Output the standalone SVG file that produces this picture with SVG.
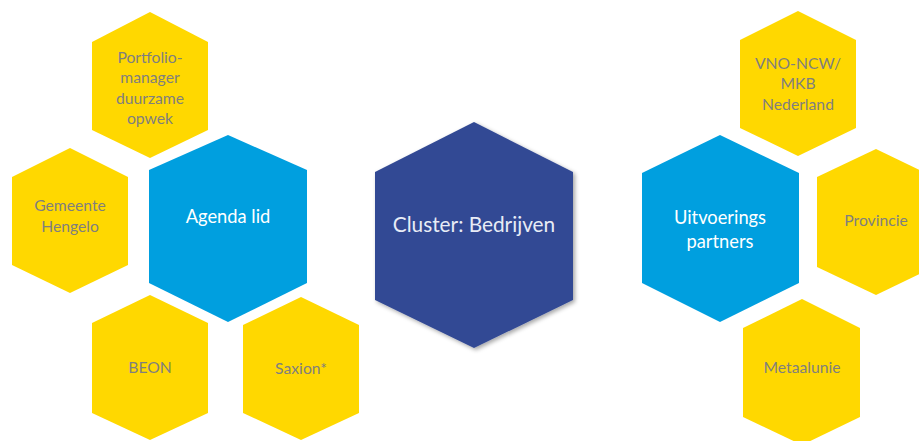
<svg xmlns="http://www.w3.org/2000/svg" width="919" height="441" viewBox="0 0 919 441">
<defs>
<filter id="sh" x="-10%" y="-10%" width="130%" height="130%">
<feDropShadow dx="2" dy="2" stdDeviation="2" flood-color="#000" flood-opacity="0.35"/>
</filter>
</defs>
<style>
.y{fill:#FFD800}
.b{fill:#009FDF}
.d{fill:#334A94}
.g{font-family:Lato,"Liberation Sans",sans-serif;font-size:15.7px;fill:#7F7F7F;text-anchor:middle;dominant-baseline:central}
.w{font-family:Lato,"Liberation Sans",sans-serif;font-size:18.3px;fill:#FFFFFF;text-anchor:middle;dominant-baseline:central}
.c{font-family:Lato,"Liberation Sans",sans-serif;font-size:20.8px;fill:#E8ECF6;text-anchor:middle;dominant-baseline:central}
</style>
<rect width="919" height="441" fill="#FFFFFF"/>
<g id="portfolio">
<polygon class="y" points="150,12 208,42 208,130 150,158 92,130 92,42"/>
<text class="g" x="150" y="57">Portfolio-</text>
<text class="g" x="150" y="77">manager</text>
<text class="g" x="150" y="98">duurzame</text>
<text class="g" x="150" y="118">opwek</text>
</g>
<g id="gemeente">
<polygon class="y" points="70,148 128,177 128,265 70,293 12,265 12,177"/>
<text class="g" x="70" y="205">Gemeente</text>
<text class="g" x="70" y="226">Hengelo</text>
</g>
<g id="agenda">
<polygon class="b" points="228,135 307,170 307,283 228,322 149,283 149,170"/>
<text class="w" x="228" y="216">Agenda lid</text>
</g>
<g id="beon">
<polygon class="y" points="150,295 208,323 208,413 150,440 92,413 92,323"/>
<text class="g" x="150" y="367">BEON</text>
</g>
<g id="saxion">
<polygon class="y" points="301,297 359,325 359,413 301,440 243,413 243,325"/>
<text class="g" x="301" y="368">Saxion*</text>
</g>
<g id="cluster">
<polygon class="d" filter="url(#sh)" points="474,122 573,172 573,300 474,348 375,300 375,172"/>
<text class="c" x="474" y="223">Cluster: Bedrijven</text>
</g>
<g id="uitvoerings">
<polygon class="b" points="720,135 799,173 799,283 720,322 642,283 642,173"/>
<text class="w" x="720" y="217">Uitvoerings</text>
<text class="w" x="720" y="241">partners</text>
</g>
<g id="vno">
<polygon class="y" points="798,11 856,40 856,128 798,156 740,128 740,40"/>
<text class="g" x="798" y="63">VNO-NCW/</text>
<text class="g" x="798" y="83">MKB</text>
<text class="g" x="798" y="104">Nederland</text>
</g>
<g id="provincie">
<polygon class="y" points="876,149 934,177 934,267 876,295 817,267 817,177"/>
<text class="g" x="876" y="220">Provincie</text>
</g>
<g id="metaalunie">
<polygon class="y" points="802,299 860,328 860,417 802,445 743,417 743,328"/>
<text class="g" x="802" y="367">Metaalunie</text>
</g>
<g id="connectors"/>
</svg>
